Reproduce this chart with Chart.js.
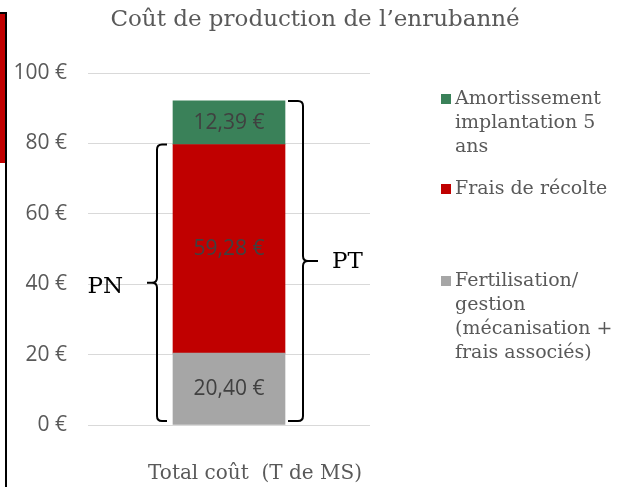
<!DOCTYPE html>
<html>
<head>
<meta charset="utf-8">
<script src="https://cdn.jsdelivr.net/npm/chart.js@4"></script>
<style>
  html, body { margin: 0; padding: 0; background: #fff; }
  #wrap { position: relative; width: 620px; height: 487px; overflow: hidden; }
  /* cropped neighbour shape on the left edge of the original picture */
  .edge-red { position: absolute; left: 0; top: 12px; width: 5px; height: 149px; background: #c00000; border-top: 2px solid #000; }
  .edge-line { position: absolute; left: 5px; top: 12px; width: 2px; height: 475px; background: #000; }
</style>
</head>
<body>
<div id="wrap">
  <canvas id="chart" width="620" height="487"></canvas>
  <div class="edge-red"></div>
  <div class="edge-line"></div>
</div>
<script>
// Data
const categories = ['Total coût  (T de MS)'];
const fertilisation = [20.40];
const recolte = [59.28];
const amortissement = [12.39];
const seriesNames = [
  'Fertilisation/ gestion (mécanisation + frais associés)',
  'Frais de récolte',
  'Amortissement implantation 5 ans'
];
// legend text as it wraps in the original
const legendLines = [
  ['Amortissement', 'implantation 5', 'ans'],
  ['Frais de récolte'],
  ['Fertilisation/', 'gestion', '(mécanisation +', 'frais associés)']
];
const yTicks = [0, 20, 40, 60, 80, 100];
const braceLabels = ['PN', 'PT'];
const chartTitle = 'Coût de production de l’enrubanné';

const theme = {
  grey: '#a6a6a6',
  red: '#c00000',
  green: '#3a8159',
  text: '#595959',
  label: '#404040',
  grid: '#d9d9d9'
};
const serif = "'DejaVu Serif', serif";
const sans = "'Open Sans', sans-serif";

const fmtEuro = v => v.toFixed(2).replace('.', ',') + ' €';

// title centred over the whole picture (not just the plot)
const topTitle = {
  id: 'topTitle',
  afterDraw(chart, args, opts) {
    const ctx = chart.ctx;
    ctx.save();
    ctx.font = `23px ${serif}`;
    ctx.fillStyle = theme.text;
    ctx.textAlign = 'center';
    ctx.textBaseline = 'middle';
    ctx.fillText(chartTitle, opts.x, opts.y);
    ctx.restore();
  }
};

// value labels inside each segment
const valueLabels = {
  id: 'valueLabels',
  afterDatasetsDraw(chart) {
    const ctx = chart.ctx;
    ctx.save();
    ctx.font = `21px ${sans}`;
    ctx.fillStyle = theme.label;
    ctx.textAlign = 'center';
    ctx.textBaseline = 'middle';
    chart.data.datasets.forEach((ds, i) => {
      chart.getDatasetMeta(i).data.forEach((bar, j) => {
        ctx.fillText(fmtEuro(ds.data[j]), bar.x, (bar.y + bar.base) / 2);
      });
    });
    ctx.restore();
  }
};

// curly braces PN (grey + red) and PT (all three)
const braces = {
  id: 'braces',
  afterDatasetsDraw(chart) {
    const ctx = chart.ctx;
    const y = chart.scales.y;
    const bar = chart.getDatasetMeta(0).data[0];
    const left = bar.x - bar.width / 2;
    const right = bar.x + bar.width / 2;
    const bottom = y.getPixelForValue(0) - 4;
    const pnTop = y.getPixelForValue(fertilisation[0] + recolte[0]);
    const ptTop = y.getPixelForValue(fertilisation[0] + recolte[0] + amortissement[0]);

    const drawBrace = (hook, vx, tip, top, bot) => {
      const mid = (top + bot) / 2;
      const r = 5;
      const d = Math.sign(hook - vx);
      ctx.beginPath();
      ctx.moveTo(hook, top);
      ctx.lineTo(vx + d * r, top);
      ctx.quadraticCurveTo(vx, top, vx, top + r);
      ctx.lineTo(vx, mid - r);
      ctx.quadraticCurveTo(vx, mid, vx - d * r, mid);
      ctx.lineTo(tip, mid);
      ctx.moveTo(vx - d * r, mid);
      ctx.quadraticCurveTo(vx, mid, vx, mid + r);
      ctx.lineTo(vx, bot - r);
      ctx.quadraticCurveTo(vx, bot, vx + d * r, bot);
      ctx.lineTo(hook, bot);
      ctx.stroke();
      return mid;
    };

    ctx.save();
    ctx.strokeStyle = '#000';
    ctx.lineWidth = 2;
    ctx.font = `23px ${serif}`;
    ctx.fillStyle = '#000';
    ctx.textBaseline = 'middle';

    const m1 = drawBrace(left - 6, left - 16, left - 26, pnTop, bottom);
    ctx.textAlign = 'right';
    ctx.fillText(braceLabels[0], left - 50, m1 + 4);

    const m2 = drawBrace(right + 3, right + 18, right + 33, ptTop, bottom);
    ctx.textAlign = 'left';
    ctx.fillText(braceLabels[1], right + 47, m2 + 1);
    ctx.restore();
  }
};

// legend on the right with wrapped labels
const sideLegend = {
  id: 'sideLegend',
  afterDraw(chart, args, opts) {
    const ctx = chart.ctx;
    ctx.save();
    ctx.font = `19px ${serif}`;
    ctx.textBaseline = 'middle';
    ctx.textAlign = 'left';
    const order = [2, 1, 0];
    order.forEach((dsIndex, k) => {
      const ds = chart.data.datasets[dsIndex];
      const y0 = opts.rows[k];
      ctx.fillStyle = ds.backgroundColor;
      ctx.fillRect(opts.x, y0 - 5, 10, 10);
      ctx.fillStyle = theme.text;
      legendLines[k].forEach((line, li) => {
        ctx.fillText(line, opts.x + 14, y0 + li * opts.lineHeight);
      });
    });
    ctx.restore();
  }
};

new Chart(document.getElementById('chart'), {
  type: 'bar',
  data: {
    labels: categories,
    datasets: [
      { label: seriesNames[0], data: fertilisation, backgroundColor: theme.grey },
      { label: seriesNames[1], data: recolte, backgroundColor: theme.red },
      { label: seriesNames[2], data: amortissement, backgroundColor: theme.green }
    ]
  },
  options: {
    responsive: false,
    animation: false,
    barThickness: 112,
    layout: { padding: { left: 0, right: 250, top: 73, bottom: 0 } },
    scales: {
      x: {
        stacked: true,
        grid: { display: false, drawTicks: false },
        border: { display: false },
        ticks: { color: theme.text, font: { family: serif, size: 20 }, padding: 37, labelOffset: 26 },
        afterFit: s => { s.height = 62; }
      },
      y: {
        stacked: true,
        min: 0,
        max: 100,
        afterBuildTicks: s => { s.ticks = yTicks.map(v => ({ value: v })); },
        grid: { color: theme.grid, drawTicks: false },
        border: { display: false },
        ticks: { color: theme.text, font: { family: sans, size: 21 }, padding: 21, callback: v => v + ' €' },
        afterFit: s => { s.width = 88; }
      }
    },
    plugins: {
      legend: { display: false },
      tooltip: { enabled: false },
      title: { display: false },
      topTitle: { x: 315, y: 20 },
      sideLegend: { x: 441, rows: [99, 189, 281], lineHeight: 24 }
    }
  },
  plugins: [topTitle, valueLabels, braces, sideLegend]
});
</script>
</body>
</html>
